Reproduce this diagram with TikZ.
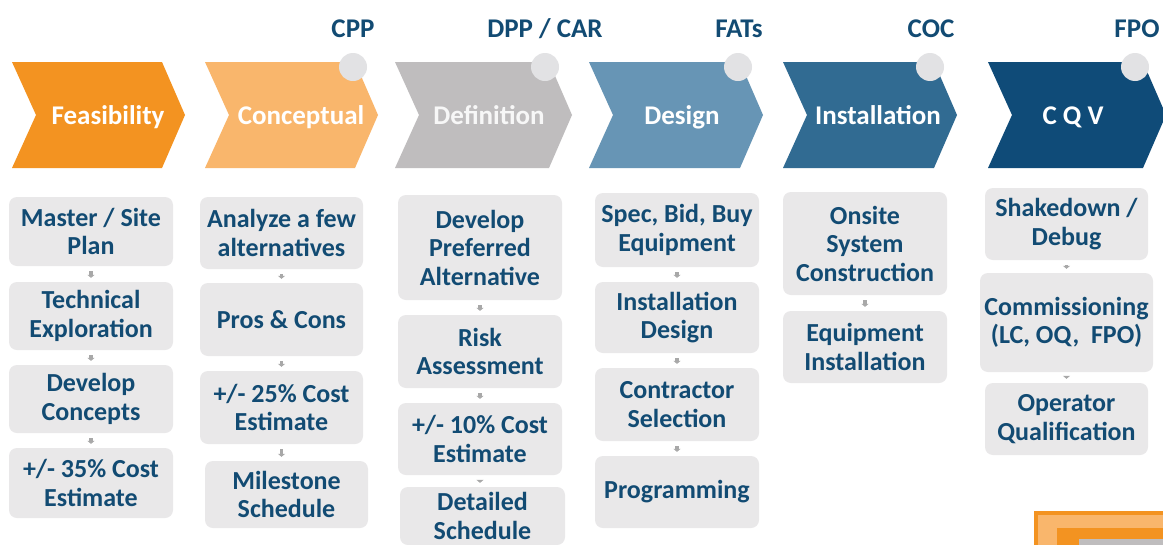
\documentclass[tikz,border=0pt]{standalone}
\usepackage{fontspec}
\setmainfont{Carlito}
\usetikzlibrary{arrows.meta}
\definecolor{cA}{HTML}{F39321}
\definecolor{cB}{HTML}{F9B66C}
\definecolor{cC}{HTML}{BFBDBE}
\definecolor{cD}{HTML}{6795B5}
\definecolor{cE}{HTML}{316B92}
\definecolor{cF}{HTML}{0F4B78}
\definecolor{boxgray}{HTML}{E9E8E9}
\definecolor{txtblue}{HTML}{124B73}
\definecolor{dotgray}{HTML}{E2E2E4}
\definecolor{arrgray}{HTML}{A8A8A8}
\tikzset{
  bx/.style={rectangle, rounded corners=8pt, fill=boxgray, text=txtblue,
    font=\fontsize{26}{28.5}\selectfont\bfseries, align=center, inner sep=0pt},
  hdr/.style={anchor=base, text=txtblue, font=\fontsize{27}{30}\selectfont\bfseries, inner sep=0pt},
  chl/.style={anchor=base, text=white, font=\fontsize{27}{30}\selectfont\bfseries, inner sep=0pt},
  dot/.style={circle, fill=dotgray, minimum size=28pt, inner sep=0pt},
  sarr/.style={draw=arrgray, line width=3.5pt, shorten <=5pt, shorten >=4pt,
    -{Triangle[width=7pt,length=3pt]}},
}
\newcommand{\chev}[3]{\fill[#3] (#1,62) -- (#2-23,62) -- (#2,115) -- (#2-23,168) -- (#1,168) -- (#1+24,115) -- cycle;}
\begin{document}
\begin{tikzpicture}[x=1pt,y=-1pt]
\useasboundingbox (0,0) rectangle (1163,544);
\clip (0,0) rectangle (1163,544);
\fill[white] (0,0) rectangle (1163,544);

% chevrons
\chev{12}{185}{cA}
\chev{205}{378}{cB}
\chev{395}{572}{cC}
\chev{589}{763}{cD}
\chev{783}{957}{cE}
\chev{988}{1166}{cF}

\node[chl] (l1) at (108,124) {Feasibility};
\node[chl] (l2) at (301,124) {Conceptual};
\node[chl, text=white!97!black] (l3) at (489,124) {Definition};
\node[chl] (l4) at (682,124) {Design};
\node[chl] (l5) at (878,124) {Installation};
\node[chl] (l6) at (1073,124) {C Q V};

% milestone dots
\node[dot] (m2) at (353,67) {};
\node[dot] (m3) at (545,67) {};
\node[dot] (m4) at (738,67) {};
\node[dot] (m5) at (930,67) {};
\node[dot] (m6) at (1135,67) {};

% milestone labels
\node[hdr] (h2) at (353,37) {CPP};
\node[hdr] (h3) at (545,37) {DPP / CAR};
\node[hdr] (h4) at (739,37) {FATs};
\node[hdr] (h5) at (931,37) {COC};
\node[hdr] (h6) at (1137,37) {FPO};

% column 1
\node[bx, minimum width=164, minimum height=69] (a1) at (91,231.5) {Master / Site\\Plan};
\node[bx, minimum width=164, minimum height=68] (a2) at (91,316) {Technical\\Exploration};
\node[bx, minimum width=164, minimum height=68] (a3) at (91,399) {Develop\\Concepts};
\node[bx, minimum width=164, minimum height=70] (a4) at (91,483) {+/- 35\% Cost\\Estimate};

% column 2
\node[bx, minimum width=163, minimum height=72] (b1) at (281.5,233) {Analyze a few\\alternatives};
\node[bx, minimum width=163, minimum height=73] (b2) at (281.5,319.5) {Pros \& Cons};
\node[bx, minimum width=163, minimum height=73] (b3) at (281.5,407.5) {+/- 25\% Cost\\Estimate};
\node[bx, minimum width=163, minimum height=67] (b4) at (286.5,494.5) {Milestone\\Schedule};

% column 3
\node[bx, minimum width=164, minimum height=105] (c1) at (480,247.5) {Develop\\Preferred\\Alternative};
\node[bx, minimum width=164, minimum height=73] (c2) at (480,351.5) {Risk\\Assessment};
\node[bx, minimum width=164, minimum height=72] (c3) at (480,439) {+/- 10\% Cost\\Estimate};
\node[bx, minimum width=165, minimum height=58] (c4) at (482.5,516) {Detailed\\Schedule};

% column 4
\node[bx, minimum width=164, minimum height=74] (d1) at (677,230) {Spec, Bid, Buy\\Equipment};
\node[bx, minimum width=164, minimum height=71] (d2) at (677,317.5) {Installation\\Design};
\node[bx, minimum width=164, minimum height=73] (d3) at (677,404.5) {Contractor\\Selection};
\node[bx, minimum width=164, minimum height=72] (d4) at (677,492) {Programming};

% column 5
\node[bx, minimum width=164, minimum height=103] (e1) at (865,243.5) {Onsite\\System\\Construction};
\node[bx, minimum width=164, minimum height=72] (e2) at (865,347) {Equipment\\Installation};

% column 6
\node[bx, minimum width=163, minimum height=72] (f1) at (1066.5,224) {Shakedown /\\Debug};
\node[bx, minimum width=173, minimum height=99] (f2) at (1066.5,322.5) {Commissioning\\(LC, OQ,\ \ FPO)};
\node[bx, minimum width=163, minimum height=72] (f3) at (1066.5,419) {Operator\\Qualification};

% small connectors
\draw[sarr] (a1) -- (a2);
\draw[sarr] (a2) -- (a3);
\draw[sarr] (a3) -- (a4);
\draw[sarr] (b1) -- (b2);
\draw[sarr] (b2) -- (b3);
\draw[sarr] (b3.south) -- (b3.south |- b4.north);
\draw[sarr] (c1) -- (c2);
\draw[sarr] (c2) -- (c3);
\draw[sarr] (c3.south) -- (c3.south |- c4.north);
\draw[sarr] (d1) -- (d2);
\draw[sarr] (d2) -- (d3);
\draw[sarr] (d3) -- (d4);
\draw[sarr] (e1) -- (e2);
\draw[sarr] (f1) -- (f2);
\draw[sarr] (f2) -- (f3);

% corner decoration
\fill[cA] (1034,511) rectangle (1170,550);
\fill[cB] (1038,515) rectangle (1170,550);
\fill[cA] (1057,528) rectangle (1170,550);
\fill[cC] (1079,539) rectangle (1170,550);
\end{tikzpicture}
\end{document}
